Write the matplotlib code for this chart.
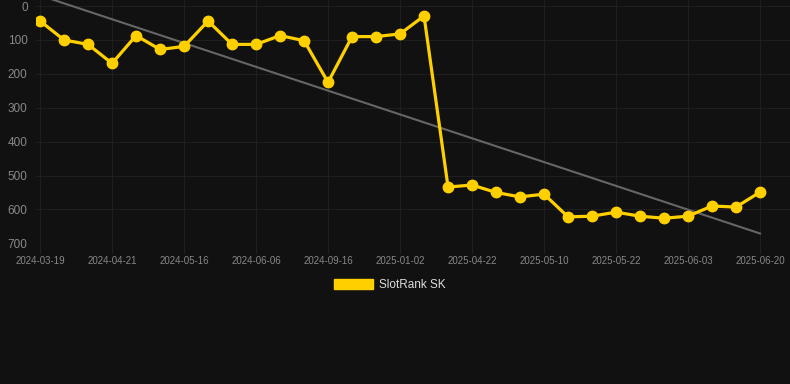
import numpy as np
from matplotlib import pyplot as plt

dates = ['2024-03-19', '', '', '2024-04-21', '', '', '2024-05-16', '', '',
         '2024-06-06', '', '', '2024-09-16', '', '', '2025-01-02', '', '',
         '2025-04-22', '', '', '2025-05-10', '', '', '2025-05-22', '', '',
         '2025-06-03', '', '', '2025-06-20']
rank = [44, 100, 113, 169, 87, 128, 119, 44, 113, 113, 87, 102, 225, 90, 90,
        82, 29, 534, 528, 550, 563, 555, 622, 620, 608, 620, 626, 620, 590,
        593, 549]
y_ticks = [0, 100, 200, 300, 400, 500, 600, 700]

bg = '#111111'
gold = '#FFD000'

plt.rcParams['font.family'] = ['Liberation Sans', 'DejaVu Sans']
fig = plt.figure(figsize=(7.9, 3.84), dpi=100, facecolor=bg)
ax = fig.add_axes([36/790, 1 - 243.3/384, 1 - 36/790, 243.3/384])
ax.set_facecolor(bg)

x = np.arange(len(rank))
# trend line (least squares)
k, b = np.polyfit(x, rank, 1)
ax.plot([x[0], x[-1]], [k*x[0] + b, k*x[-1] + b], color='#666666', lw=1.5, zorder=2)

ax.plot(x, rank, color=gold, lw=2.3, marker='o', ms=7.5, zorder=3, label='SlotRank SK')

ax.set_xlim(-0.17, 31.25)
ax.set_ylim(700, -18)
ax.set_yticks(y_ticks)
tick_pos = [i for i, d in enumerate(dates) if d]
ax.set_xticks(tick_pos)
ax.set_xticklabels([dates[i] for i in tick_pos])

ax.grid(True, color='#1f1f1f', lw=0.8)
for s in ax.spines.values():
    s.set_visible(False)
ax.tick_params(axis='x', colors='#222222', labelcolor='#888888', labelsize=7, length=7, width=0.8, pad=2)
ax.tick_params(axis='y', length=0, labelcolor='#888888', labelsize=8.5, pad=6)

leg = fig.legend(handles=[plt.Rectangle((0, 0), 1, 1, color=gold)], labels=['SlotRank SK'],
                 loc='center', bbox_to_anchor=(390/790, 1 - 285/384), frameon=False,
                 handlelength=3.3, handleheight=1.0, handletextpad=0.5, fontsize=8.5)
for t in leg.get_texts():
    t.set_color('#dddddd')

fig.savefig('out.png', dpi=100, facecolor=bg)
